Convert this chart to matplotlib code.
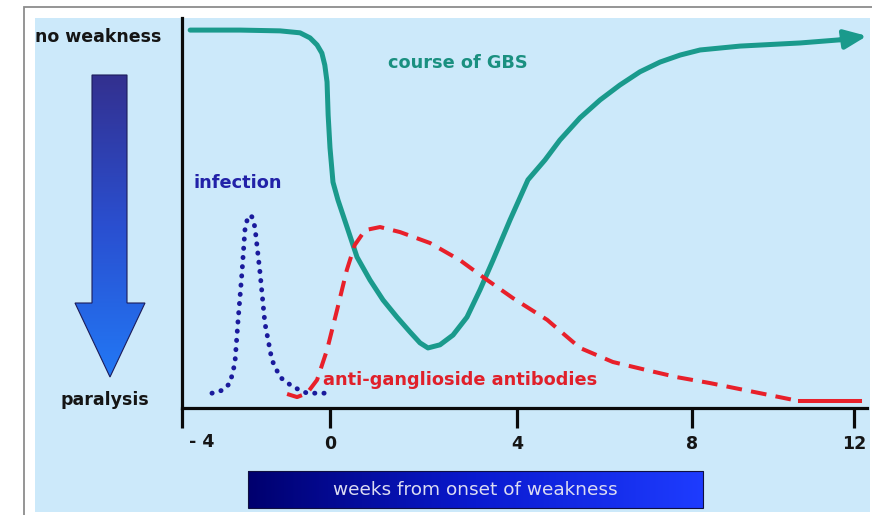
import numpy as np
import matplotlib
matplotlib.use('Agg')
import matplotlib.pyplot as plt
from matplotlib.patches import Rectangle, Polygon
from matplotlib.colors import LinearSegmentedColormap

# ── Data: weeks from onset vs. level (0 = paralysis, 100 = no weakness) ──────
gbs_week = [-3.78, -2.43, -1.35, -0.81, -0.54, -0.35, -0.22, -0.14, -0.08, -0.05,
            0.0, 0.064, 0.171, 0.364, 0.578, 0.856, 1.134, 1.433, 1.711, 1.925,
            2.096, 2.353, 2.631, 2.930, 3.209, 3.487, 3.850, 4.25, 4.64, 4.98,
            5.44, 5.90, 6.35, 6.81, 7.27, 7.73, 8.20, 9.19, 10.67, 11.65, 12.32]
gbs_level = [96.9, 96.9, 96.7, 96.2, 94.9, 93.1, 91.0, 87.9, 83.6, 75.1,
             66.7, 57.9, 53.3, 46.4, 38.7, 32.8, 27.7, 23.3, 19.5, 16.7,
             15.4, 16.2, 18.7, 23.3, 30.3, 37.9, 48.2, 58.5, 63.6, 68.7,
             74.4, 79.0, 82.8, 86.2, 88.7, 90.5, 91.8, 92.8, 93.6, 94.4, 95.4]

infection_week = [-3.19, -2.89, -2.70, -2.57, -2.49, -2.38, -2.30, -2.24, -2.16,
                  -2.11, -2.03, -1.89, -1.76, -1.57, -1.35, -1.00, -0.62, 0.06]
infection_level = [3.8, 4.6, 6.4, 11.5, 21.8, 34.6, 45.6, 48.2, 49.5,
                   49.0, 46.4, 34.6, 21.8, 12.3, 7.9, 5.4, 3.8, 3.8]

antibody_week = [-1.16, -0.89, -0.62, -0.35, -0.08, 0.15, 0.36, 0.53, 0.75, 1.07,
                 1.50, 2.14, 2.78, 3.27, 3.91, 4.69, 5.44, 6.19, 6.97, 7.66,
                 8.44, 9.68, 10.49, 10.67, 12.15]
antibody_level = [3.6, 2.8, 3.8, 7.2, 14.9, 25.1, 35.4, 41.8, 45.6, 46.4,
                  45.1, 42.3, 37.9, 33.6, 28.2, 22.6, 15.4, 11.8, 9.7, 7.9,
                  6.4, 3.8, 2.1, 1.8, 1.8]

week_ticks = [-4, 0, 4, 8, 12]
week_labels = ['', '0', '4', '8', '12']

# hand-drawn time axis: uneven spacing between the week marks
knot_weeks = [-10, -4, 0, 4, 8, 12, 20]
knot_pos = [-40, 182, 330, 517, 692, 854, 1178]

def fwd(x):
    return np.interp(x, knot_weeks, knot_pos)

def inv(p):
    return np.interp(p, knot_pos, knot_weeks)

# ── Colours ──────────────────────────────────────────────────────────────────
PANEL = '#cce9fa'
TEAL = '#1a9a8c'
RED = '#e8202a'
NAVY = '#1a1a9c'
INK = '#151515'

fig = plt.figure(figsize=(8.72, 5.15), dpi=100)
fig.patch.set_facecolor('white')

# decoration layer in pixel units
deco = fig.add_axes([0, 0, 1, 1], zorder=0)
deco.set_axis_off()
deco.add_patch(Rectangle((24, 7), 900, 600, fc='white', ec='#8c8c8c', lw=1.3))
deco.add_patch(Rectangle((35, 18), 835, 494, fc=PANEL, ec='none'))

# big severity arrow with vertical gradient
arrow_xy = [(92, 75), (127, 75), (127, 303), (145, 303), (110, 377),
            (75, 303), (92, 303)]
deco.add_patch(Polygon(arrow_xy, closed=True, fc='none', ec='#1c1c5a',
                       lw=0.8, zorder=3))
vgrad = np.linspace(0, 1, 256).reshape(-1, 1)
arrow_cmap = LinearSegmentedColormap.from_list('arr', ['#33308f', '#2a4fd0', '#2278f5'])
im = deco.imshow(vgrad, cmap=arrow_cmap, extent=(75, 145, 377, 75),
                 aspect='auto', zorder=2, interpolation='bicubic')
im.set_clip_path(Polygon(arrow_xy, closed=True, transform=deco.transData))

# x-axis title bar with horizontal gradient
bar_cmap = LinearSegmentedColormap.from_list('bar', ['#00006e', '#0a1ad0', '#1e3cff'])
hgrad = np.linspace(0, 1, 256).reshape(1, -1)
deco.imshow(hgrad, cmap=bar_cmap, extent=(248, 703, 508, 471),
            aspect='auto', zorder=2)
deco.add_patch(Rectangle((248, 471), 455, 37, fc='none', ec='#101040', lw=0.8, zorder=3))
deco.text(475, 490, 'weeks from onset of weakness', color='#dcdcf2',
          fontsize=13.3, ha='center', va='center', zorder=4)

deco.text(35, 37, 'no weakness', color=INK, fontsize=12.5, fontweight='bold',
          ha='left', va='center')
deco.text(105, 400, 'paralysis', color=INK, fontsize=12.5, fontweight='bold',
          ha='center', va='center')

deco.set_xlim(0, 872)
deco.set_ylim(515, 0)

# ── Main chart ───────────────────────────────────────────────────────────────
ax = fig.add_axes([182 / 872, 107 / 515, 685 / 872, 390 / 515], zorder=1)
ax.patch.set_alpha(0)
ax.set_xscale('function', functions=(fwd, inv))
ax.set_xlim(-4, inv(867))
ax.set_ylim(0, 100)

ax.plot(gbs_week[:-1], gbs_level[:-1], color=TEAL, lw=3.6,
        solid_capstyle='round', solid_joinstyle='round', zorder=3)
ax.annotate('', xy=(gbs_week[-1], gbs_level[-1]),
            xytext=(gbs_week[-2], gbs_level[-2]),
            arrowprops=dict(arrowstyle='-|>,head_length=0.75,head_width=0.32',
                            color=TEAL, lw=3.4, mutation_scale=18,
                            shrinkA=0, shrinkB=0), zorder=3)

ax.plot(antibody_week[:-1], antibody_level[:-1], color=RED, lw=2.9,
        linestyle=(0, (3.9, 2.3)), zorder=4)
ax.plot(antibody_week[-2:], antibody_level[-2:], color=RED, lw=2.9, zorder=4)

ax.plot(infection_week, infection_level, color=NAVY, lw=3.5,
        linestyle=(0, (0.05, 1.85)), dash_capstyle='round', zorder=5)

ax.text(-3.70, 57.7, 'infection', color='#2222a8', fontsize=12.8,
        fontweight='bold', ha='left', va='center')
ax.text(1.24, 88.5, 'course of GBS', color='#1a9080', fontsize=12.8,
        fontweight='bold', ha='left', va='center')
ax.text(-0.19, 7.2, 'anti-ganglioside antibodies', color='#e0202a',
        fontsize=12.8, fontweight='bold', ha='left', va='center', zorder=6)

for side in ['top', 'right']:
    ax.spines[side].set_visible(False)
for side in ['left', 'bottom']:
    ax.spines[side].set_linewidth(2.3)
    ax.spines[side].set_color('#0a0a0a')

ax.set_yticks([])
ax.set_xticks(week_ticks)
ax.set_xticklabels(week_labels)
ax.tick_params(axis='x', direction='out', length=14.4, width=2.3,
               color='#0a0a0a', pad=5, labelsize=12.5, labelcolor=INK)
for lab in ax.get_xticklabels():
    lab.set_fontweight('bold')
ax.annotate('- 4', xy=(-4, 0), xycoords=('data', 'axes fraction'),
            xytext=(14, -24.5), textcoords='offset points',
            ha='center', va='center', fontsize=12.5, fontweight='bold', color=INK)

fig.savefig('out.png', dpi=100, facecolor='white')
